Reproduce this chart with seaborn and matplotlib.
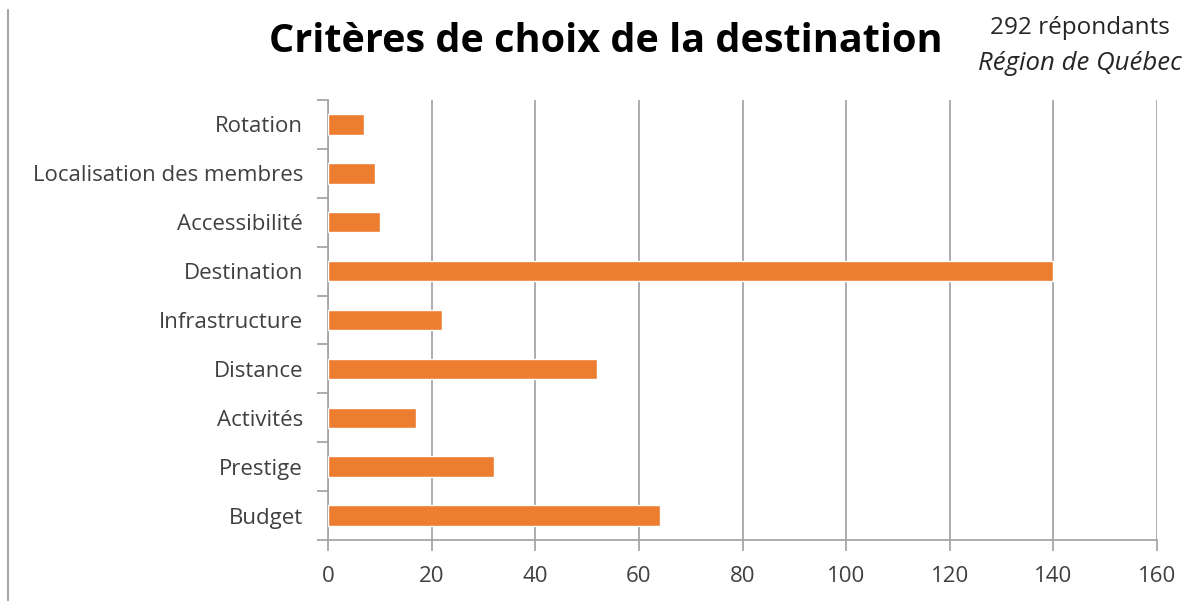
import matplotlib
matplotlib.use("Agg")
import matplotlib.pyplot as plt
import seaborn as sns
import pandas as pd
from matplotlib.lines import Line2D

# données
criteres = ["Rotation", "Localisation des membres", "Accessibilité", "Destination",
            "Infrastructure", "Distance", "Activités", "Prestige", "Budget"]
reponses = [7, 9, 10, 140, 22, 52, 17, 32, 64]
x_ticks = [0, 20, 40, 60, 80, 100, 120, 140, 160]

df = pd.DataFrame({"critere": criteres, "reponses": reponses})

sns.set_theme(style="white")
plt.rcParams["font.family"] = ["Open Sans", "DejaVu Sans"]

fig = plt.figure(figsize=(11.98, 6.01), dpi=100)
ax = fig.add_axes([328 / 1198, 61 / 601, 829 / 1198, 440 / 601])

sns.barplot(data=df, x="reponses", y="critere", color="#ED7D31", width=0.42,
            saturation=1, ax=ax, zorder=3)

ax.set_xlim(0, 160)
ax.set_ylim(len(criteres) - 0.5, -0.5)
ax.set_xticks(x_ticks)
ax.set_xticklabels([str(t) for t in x_ticks], fontsize=16, color="#404040")
ax.set_yticks(range(len(criteres)))
ax.set_yticklabels(criteres, fontsize=16, color="#404040")
ax.set_xlabel("")
ax.set_ylabel("")

# grille verticale
ax.grid(axis="x", color="#A6A6A6", linewidth=1.3, zorder=0)
ax.grid(axis="y", visible=False)
for s in ["top", "right"]:
    ax.spines[s].set_visible(False)
for s in ["left", "bottom"]:
    ax.spines[s].set_color("#A6A6A6")
    ax.spines[s].set_linewidth(1.3)

# ticks aux limites des catégories
ax.tick_params(axis="y", length=0, pad=18)
ax.set_yticks([i - 0.5 for i in range(len(criteres) + 1)], minor=True)
ax.tick_params(axis="y", which="minor", length=8, color="#A6A6A6", width=1.3, left=True)
ax.tick_params(axis="x", length=8, color="#A6A6A6", width=1.3, bottom=True, pad=11)

fig.text(606 / 1198, 1 - 42 / 601, "Critères de choix de la destination",
         ha="center", va="center", fontsize=28.5, fontweight="bold", color="black")
fig.text(1080 / 1198, 1 - 28 / 601, "292 répondants", ha="center", va="center",
         fontsize=17.5, color="#262626")
fig.text(1080 / 1198, 1 - 63 / 601, "Région de Québec", ha="center", va="center",
         fontsize=18.5, style="italic", color="#262626")

# bordure gauche
fig.add_artist(Line2D([8 / 1198, 8 / 1198], [0, 1 - 10 / 601],
                      transform=fig.transFigure, color="#A6A6A6", linewidth=1.5))

plt.savefig("out.png", dpi=100, facecolor="white")
